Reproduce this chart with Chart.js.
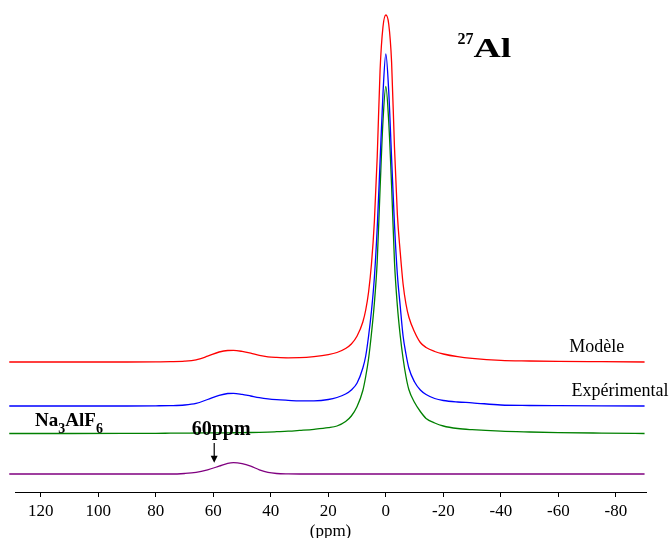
<!DOCTYPE html>
<html>
<head>
<meta charset="utf-8">
<script src="https://cdn.jsdelivr.net/npm/chart.js@4"></script>
<style>
  body { margin: 0; background: #fff; }
  #wrap { width: 670px; height: 538px; }
</style>
</head>
<body>
<div id="wrap"><canvas id="nmrChart"></canvas></div>
<script>
// chemical shift grid (ppm)
const ppm = [131, 110, 90, 80, 75, 70, 66, 62, 58, 55,
  53, 50, 47, 44, 41, 38, 34, 30, 25, 20,
  17, 14, 12, 10, 8, 7, 6, 5, 4, 3,
  2, 1, 0, -1, -2, -3, -4, -5, -6, -7,
  -8, -10, -12, -14, -17, -20, -25, -30, -40, -50,
  -60, -75, -90];

// intensities above each trace's own baseline
const modele = [0, 0, 0, 0.1, 0.3, 0.8, 2.2, 5.8, 10, 11.5,
  11.6, 10.6, 8.8, 6.6, 5.2, 4.6, 4.2, 4.3, 5.3, 7.3,
  9.5, 13.5, 18, 26, 40, 52, 70, 98, 140, 205,
  292, 335, 347, 338, 300, 215, 148, 110, 78, 58,
  45, 30, 19.5, 14.5, 10.5, 8, 5.3, 3.6, 1.6, 1,
  0.6, 0.3, 0];
const experimental = [0, 0, 0, 0.2, 0.4, 1, 2.6, 6.5, 10.6, 12.5,
  12.7, 11.6, 10, 8.4, 7.2, 6.4, 5.7, 5.1, 5.2, 6.5,
  8.5, 12, 16, 23, 38, 50, 70, 95, 128, 178,
  245, 312, 352, 315, 248, 182, 132, 100, 70, 52,
  38, 24, 16, 11.5, 7.5, 5.5, 4, 3.2, 1, 0.5,
  0.3, 0.1, 0];
const na3alf6 = [0, 0, 0.1, 0.2, 0.3, 0.4, 0.5, 0.55, 0.6, 0.7,
  0.75, 0.85, 1, 1.2, 1.45, 1.8, 2.3, 3.1, 4.2, 5.8,
  7.5, 12, 17.5, 27, 43, 57, 75, 100, 130, 172,
  245, 312, 347, 312, 248, 172, 128, 98, 75, 57,
  44, 31, 22, 15, 10.5, 7.5, 5, 3.8, 2.3, 1.5,
  0.9, 0.4, 0];
const site60 = [0, 0, 0, 0, 0, 0.5, 1.6, 4.2, 7.8, 10.6,
  11.3, 10.3, 7.8, 4.2, 1.6, 0.5, 0.1, 0, 0, 0,
  0, 0, 0, 0, 0, 0, 0, 0, 0, 0,
  0, 0, 0, 0, 0, 0, 0, 0, 0, 0,
  0, 0, 0, 0, 0, 0, 0, 0, 0, 0,
  0, 0, 0];

// vertical stacking of the traces
const offsets = [130, 86, 58.5, 18];
const xTicks = [120, 100, 80, 60, 40, 20, 0, -20, -40, -60, -80];

const serif = '"Liberation Serif", "Times New Roman", serif';

function trace(values, offset, color) {
  return {
    data: ppm.map((p, i) => ({ x: p, y: values[i] + offset })),
    borderColor: color,
    borderWidth: 1.3,
    pointRadius: 0,
    fill: false,
    cubicInterpolationMode: 'monotone',
    clip: { left: 6, right: 1, top: 5, bottom: 1 }
  };
}

// draws text runs with sub/superscripts
function drawRuns(ctx, runs, x0, y0) {
  let x = x0;
  runs.forEach(r => {
    ctx.font = r.font;
    const sc = r.sx || 1;
    ctx.save();
    ctx.translate(x, y0 + (r.dy || 0));
    ctx.scale(sc, 1);
    ctx.fillText(r.t, 0, 0);
    ctx.restore();
    x += ctx.measureText(r.t).width * sc;
  });
}

const labels = {
  id: 'labels',
  afterDraw(chart) {
    const { ctx } = chart;
    const sx = chart.scales.x, sy = chart.scales.y;
    ctx.save();
    ctx.fillStyle = '#000';
    ctx.textBaseline = 'alphabetic';
    ctx.textAlign = 'left';

    ctx.font = '18px ' + serif;
    ctx.fillText('Modèle', sx.getPixelForValue(-63.8), sy.getPixelForValue(140.3));
    ctx.fillText('Expérimental', sx.getPixelForValue(-64.6), sy.getPixelForValue(96.3));

    const b = 'bold ';
    drawRuns(ctx, [
      { t: 'Na', font: b + '19px ' + serif },
      { t: '3', font: b + '14px ' + serif, dy: 7 },
      { t: 'AlF', font: b + '19px ' + serif },
      { t: '6', font: b + '14px ' + serif, dy: 7 }
    ], sx.getPixelForValue(122), sy.getPixelForValue(66));

    drawRuns(ctx, [
      { t: '27', font: b + '16px ' + serif, dy: -13 },
      { t: 'Al', font: b + '28px ' + serif, sx: 1.35 }
    ], sx.getPixelForValue(-24.9), sy.getPixelForValue(435.3));

    ctx.font = b + '20px ' + serif;
    ctx.textAlign = 'center';
    ctx.fillText('60ppm', sx.getPixelForValue(57.3), sy.getPixelForValue(57));

    // arrow pointing at the 60 ppm site
    const ax = sx.getPixelForValue(59.7);
    const yTop = sy.getPixelForValue(49), yTip = sy.getPixelForValue(29.3);
    ctx.strokeStyle = '#000';
    ctx.lineWidth = 1.2;
    ctx.beginPath();
    ctx.moveTo(ax, yTop);
    ctx.lineTo(ax, yTip - 6);
    ctx.stroke();
    ctx.beginPath();
    ctx.moveTo(ax - 3.5, yTip - 7);
    ctx.lineTo(ax + 3.5, yTip - 7);
    ctx.lineTo(ax, yTip);
    ctx.closePath();
    ctx.fill();
    ctx.restore();
  }
};

const ctx = document.getElementById('nmrChart').getContext('2d');
new Chart(ctx, {
  type: 'line',
  data: {
    datasets: [
      trace(modele, offsets[0], '#ff0000'),
      trace(experimental, offsets[1], '#0000ff'),
      trace(na3alf6, offsets[2], '#008000'),
      trace(site60, offsets[3], '#800080')
    ]
  },
  options: {
    responsive: true,
    maintainAspectRatio: false,
    animation: false,
    layout: {
      padding: { left: 15, right: 24, top: 10, bottom: 0 }
    },
    plugins: {
      legend: { display: false },
      tooltip: { enabled: false }
    },
    scales: {
      x: {
        type: 'linear',
        reverse: true,
        min: -90.5,
        max: 129,
        afterBuildTicks: scale => {
          scale.ticks = xTicks.map(v => ({ value: v }));
        },
        afterFit: scale => {
          scale.height = 46;
        },
        grid: {
          drawOnChartArea: false,
          drawTicks: true,
          tickLength: 5,
          color: '#000'
        },
        border: {
          display: true,
          color: '#000',
          width: 1
        },
        ticks: {
          color: '#000',
          padding: 4,
          maxRotation: 0,
          autoSkip: false,
          font: { family: serif, size: 17, lineHeight: 1.2 },
          callback: v => String(v)
        },
        title: {
          display: true,
          text: '(ppm)',
          color: '#000',
          padding: { top: 0, bottom: -2 },
          font: { family: serif, size: 17, lineHeight: 1 }
        }
      },
      y: {
        display: false,
        min: 0,
        max: 482
      }
    }
  },
  plugins: [labels]
});
</script>
</body>
</html>
